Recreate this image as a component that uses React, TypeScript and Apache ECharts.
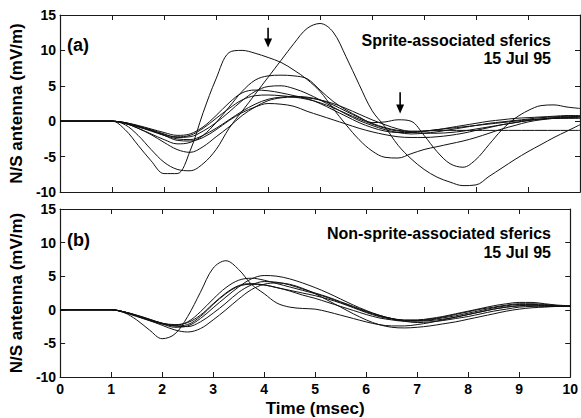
import React, { useEffect, useRef } from "react";
import * as echarts from "echarts";

const FONT = "'Liberation Sans', Arial, Helvetica, sans-serif";

// time axis (msec)
const T = [0, 0.25, 0.5, 0.75, 1, 1.25, 1.5, 1.75, 2, 2.25, 2.5, 2.75, 3, 3.25, 3.5, 3.75, 4, 4.25, 4.5, 4.75, 5, 5.25, 5.5, 5.75, 6, 6.25, 6.5, 6.75, 7, 7.25, 7.5, 7.75, 8, 8.25, 8.5, 8.75, 9, 9.25, 9.5, 9.75, 10];

// (a) Sprite-associated sferics (mV/m)
const A1 = [0, 0, 0, 0, 0, -0.5, -2.0, -4.0, -5.8, -6.8, -7.0, -6.0, -4.0, -1.0, 1.4, 3.8, 6.2, 8.6, 11.0, 13.1, 13.8, 12.6, 9.1, 5.2, 1.5, -0.8, -3.4, -5.3, -6.8, -7.9, -8.6, -9.1, -9.0, -7.8, -6.6, -5.4, -4.3, -3.3, -2.3, -1.4, -0.5];
const A2 = [0, 0, 0, 0, 0, -1.2, -3.4, -5.6, -7.4, -7.4, -4.2, 1.2, 6.0, 9.7, 10.0, 9.6, 9.0, 8.3, 7.2, 5.9, 4.2, 1.8, -0.5, -2.6, -4.2, -5.1, -5.2, -4.6, -4.0, -3.6, -3.2, -2.8, -2.3, -1.7, -1.1, -0.6, -0.1, 0.2, 0.4, 0.5, 0.5];
const A3 = [0, 0, 0, 0, 0, -0.3, -1.0, -1.8, -2.6, -3.2, -3.0, -2.0, -0.2, 2.0, 4.2, 5.8, 6.4, 6.5, 6.4, 6.0, 4.4, 2.8, 1.6, 0.6, -0.2, -0.1, 0.2, 0.0, -2.0, -4.3, -6.0, -6.5, -5.4, -3.3, -1.2, 0.4, 1.5, 2.2, 2.3, 2.0, 1.8];
const B1 = [0, 0, 0, 0, 0, -0.2, -0.6, -1.1, -1.6, -2.0, -1.8, -0.8, 0.8, 2.6, 4.0, 4.4, 4.3, 4.0, 3.6, 3.2, 2.5, 1.6, 0.7, -0.2, -0.9, -1.4, -1.6, -1.6, -1.4, -1.2, -1.0, -0.8, -0.6, -0.4, -0.2, 0, 0.2, 0.3, 0.4, 0.5, 0.6];
const B2 = [0, 0, 0, 0, 0, -0.2, -0.7, -1.2, -1.8, -2.3, -2.2, -1.4, -0.2, 1.3, 2.9, 4.2, 4.9, 5.0, 4.6, 3.9, 3.0, 2.0, 1.0, 0.1, -0.6, -1.2, -1.6, -1.8, -1.7, -1.5, -1.2, -0.9, -0.6, -0.3, -0.1, 0.1, 0.3, 0.5, 0.6, 0.7, 0.7];
const B3 = [0, 0, 0, 0, 0, -0.3, -0.8, -1.4, -2.0, -2.5, -2.6, -2.0, -1.0, 0.2, 1.4, 2.4, 3.1, 3.4, 3.5, 3.4, 3.0, 2.3, 1.4, 0.5, -0.3, -0.9, -1.3, -1.4, -1.4, -1.3, -1.3, -1.3, -1.3, -1.3, -1.3, -1.3, -1.3, -1.3, -1.3, -1.3, -1.3];
const B4 = [0, 0, 0, 0, 0, -0.3, -1.0, -1.9, -3.0, -4.0, -4.4, -3.6, -2.2, -0.8, 0.8, 2.0, 2.9, 3.3, 3.4, 3.3, 3.0, 2.5, 1.8, 1.0, 0.2, -0.5, -1.1, -1.5, -1.7, -1.7, -1.6, -1.4, -1.1, -0.8, -0.5, -0.2, 0.1, 0.3, 0.5, 0.6, 0.7];
const B5 = [0, 0, 0, 0, 0, -0.2, -0.7, -1.3, -2.0, -2.7, -2.8, -2.3, -1.2, 0.1, 1.2, 2.0, 2.5, 2.4, 2.1, 1.4, 0.8, 0.2, -0.4, -1.0, -1.5, -1.9, -2.2, -2.3, -2.3, -2.2, -2.0, -1.7, -1.3, -0.9, -0.5, -0.2, 0.1, 0.3, 0.4, 0.4, 0.4];
const B6 = [0, 0, 0, 0, 0, -0.3, -0.8, -1.3, -1.9, -2.2, -2.0, -1.0, 0.4, 1.8, 3.0, 3.6, 3.7, 3.6, 3.4, 3.1, 2.6, 1.9, 1.1, 0.3, -0.4, -1.0, -1.4, -1.5, -1.4, -1.2, -0.9, -0.6, -0.3, 0, 0.2, 0.4, 0.5, 0.6, 0.7, 0.8, 0.8];

// (b) Non-sprite-associated sferics (mV/m)
const O1 = [0, 0, 0, 0, 0, -0.4, -1.5, -3.0, -4.3, -3.6, -1.0, 2.6, 6.2, 7.3, 6.0, 3.8, 2.4, 1.0, 0.4, 0.2, 0.1, -0.3, -0.8, -1.3, -1.8, -2.2, -2.4, -2.4, -2.2, -1.9, -1.5, -1.1, -0.7, -0.3, 0.1, 0.4, 0.6, 0.6, 0.5, 0.5, 0.5];
const C1 = [0, 0, 0, 0, 0, -0.3, -0.8, -1.4, -2.0, -2.3, -1.8, -0.3, 1.6, 3.3, 4.4, 4.7, 4.4, 3.9, 3.4, 2.9, 2.4, 1.8, 1.1, 0.4, -0.3, -0.9, -1.3, -1.5, -1.5, -1.3, -1.0, -0.6, -0.2, 0.2, 0.6, 0.9, 1.1, 1.1, 0.9, 0.7, 0.6];
const C2 = [0, 0, 0, 0, 0, -0.3, -0.9, -1.5, -2.1, -2.6, -2.4, -1.3, 0.3, 1.9, 3.4, 4.6, 5.1, 5.0, 4.6, 4.0, 3.3, 2.5, 1.6, 0.7, -0.1, -0.8, -1.3, -1.6, -1.6, -1.5, -1.2, -0.9, -0.5, -0.1, 0.3, 0.6, 0.8, 0.8, 0.7, 0.6, 0.5];
const C3 = [0, 0, 0, 0, 0, -0.3, -0.9, -1.6, -2.3, -3.0, -3.3, -2.8, -1.5, 0.0, 1.6, 3.0, 3.8, 4.0, 3.8, 3.2, 2.4, 1.4, 0.4, -0.6, -1.5, -2.2, -2.6, -2.7, -2.6, -2.4, -2.1, -1.8, -1.4, -1.0, -0.6, -0.2, 0.1, 0.3, 0.4, 0.5, 0.5];
const C4 = [0, 0, 0, 0, 0, -0.4, -1.0, -1.6, -2.1, -2.4, -2.2, -1.0, 0.8, 2.4, 3.5, 3.8, 3.7, 3.3, 2.8, 2.2, 1.7, 1.1, 0.5, -0.1, -0.7, -1.2, -1.5, -1.7, -1.7, -1.6, -1.4, -1.1, -0.7, -0.3, 0.1, 0.4, 0.6, 0.7, 0.6, 0.5, 0.5];
const C5 = [0, 0, 0, 0, 0, -0.3, -0.8, -1.4, -2.0, -2.4, -2.5, -1.8, -0.5, 1.0, 2.6, 3.7, 4.2, 4.1, 3.7, 3.1, 2.5, 1.9, 1.2, 0.5, -0.2, -0.8, -1.3, -1.7, -1.9, -1.8, -1.6, -1.3, -1.0, -0.6, -0.2, 0.1, 0.4, 0.5, 0.6, 0.6, 0.6];
const C6 = [0, 0, 0, 0, 0, -0.3, -0.9, -1.5, -2.0, -2.2, -1.9, -0.8, 0.9, 2.5, 3.6, 3.9, 3.7, 3.3, 2.9, 2.5, 2.1, 1.6, 1.0, 0.3, -0.4, -1.0, -1.4, -1.6, -1.6, -1.4, -1.1, -0.7, -0.3, 0.1, 0.4, 0.7, 0.9, 0.9, 0.8, 0.6, 0.5];

const PANEL_A = [A1, A2, A3, B1, B2, B3, B4, B5, B6];
const PANEL_B = [O1, C1, C2, C3, C4, C5, C6];

const X_TICKS = { min: 0, max: 10, interval: 1 };
const Y_TICKS = { min: -10, max: 15, interval: 5 };

// arrows in panel (a): [time, tail value, tip value]
const ARROWS = [
  [4.0, 13.2, 10.4],
  [6.54, 4.1, 1.1],
];

const AXIS_COLOR = "#1a1a1a";
const LINE_COLOR = "#111";

export default function App() {
  const ref = useRef<HTMLDivElement>(null);
  useEffect(() => {
    const chart = echarts.init(ref.current!, null, { renderer: "svg" });

    const tick = { show: true, inside: true, length: 5, lineStyle: { color: AXIS_COLOR, width: 1 } };
    const line = { show: true, onZero: false, lineStyle: { color: AXIS_COLOR, width: 1.2 } };
    const labelStyle = { fontFamily: FONT, fontWeight: "bold" as const, fontSize: 14, color: "#000" };

    const xAxes: any[] = [];
    const yAxes: any[] = [];
    [0, 1].forEach((g) => {
      xAxes.push({
        type: "value", gridIndex: g, position: "bottom", ...X_TICKS,
        axisLine: line, axisTick: tick, splitLine: { show: false },
        axisLabel: g === 1 ? { ...labelStyle, margin: 5 } : { show: false },
        name: g === 1 ? "Time (msec)" : "",
        nameLocation: "middle", nameGap: 23,
        nameTextStyle: { fontFamily: FONT, fontWeight: "bold", fontSize: 17, color: "#000" },
      });
      xAxes.push({
        type: "value", gridIndex: g, position: "top", ...X_TICKS,
        axisLine: line, axisTick: tick, splitLine: { show: false }, axisLabel: { show: false },
      });
      yAxes.push({
        type: "value", gridIndex: g, position: "left", ...Y_TICKS,
        axisLine: line, axisTick: tick, splitLine: { show: false },
        axisLabel: { ...labelStyle, margin: 4 },
        name: "N/S antenna (mV/m)", nameLocation: "middle", nameGap: 23,
        nameTextStyle: { fontFamily: FONT, fontWeight: "bold", fontSize: 17, color: "#000" },
      });
      yAxes.push({
        type: "value", gridIndex: g, position: "right", ...Y_TICKS,
        axisLine: line, axisTick: tick, splitLine: { show: false }, axisLabel: { show: false },
      });
    });

    const mk = (vals: number[], g: number) => ({
      type: "line",
      xAxisIndex: g * 2,
      yAxisIndex: g * 2,
      data: T.map((t, i) => [t, vals[i]]),
      showSymbol: false,
      smooth: 0.35,
      silent: true,
      lineStyle: { color: LINE_COLOR, width: 1 },
    });

    chart.setOption({
      animation: false,
      backgroundColor: "#fff",
      grid: [
        { left: 47, right: 1, top: 15, height: 177 },
        { left: 47, right: 1, top: 209, height: 173 },
      ],
      xAxis: xAxes,
      yAxis: yAxes,
      series: [...PANEL_A.map((v) => mk(v, 0)), ...PANEL_B.map((v) => mk(v, 1))],
    });

    const txt = (text: string, x: number, y: number, size: number, align: string) => ({
      type: "text",
      x, y,
      style: {
        text, fill: "#000", font: `bold ${size}px ${FONT}`,
        align, verticalAlign: "middle", textAlign: align, textVerticalAlign: "middle",
      },
    });

    const arrows: any[] = [];
    ARROWS.forEach(([t, from, to]) => {
      const p1 = chart.convertToPixel({ gridIndex: 0 }, [t, from]) as number[];
      const p2 = chart.convertToPixel({ gridIndex: 0 }, [t, to]) as number[];
      arrows.push({
        type: "line",
        shape: { x1: p1[0], y1: p1[1], x2: p2[0], y2: p2[1] - 6 },
        style: { stroke: "#000", lineWidth: 1.6 },
      });
      arrows.push({
        type: "polygon",
        shape: { points: [[p2[0] - 4, p2[1] - 9], [p2[0] + 4, p2[1] - 9], [p2[0], p2[1]]] },
        style: { fill: "#000" },
      });
    });

    chart.setOption({
      graphic: [
        txt("(a)", 67, 45, 18, "left"),
        txt("Sprite-associated sferics", 551, 40, 16, "right"),
        txt("15 Jul 95", 551, 58, 16, "right"),
        txt("(b)", 67, 240, 18, "left"),
        txt("Non-sprite-associated sferics", 551, 233, 16, "right"),
        txt("15 Jul 95", 551, 252, 16, "right"),
        ...arrows,
      ],
    });

    return () => chart.dispose();
  }, []);
  return (
    <div
      ref={ref}
      style={{ position: "absolute", left: 0, top: 0, width: 581, height: 418, background: "#fff" }}
    />
  );
}
